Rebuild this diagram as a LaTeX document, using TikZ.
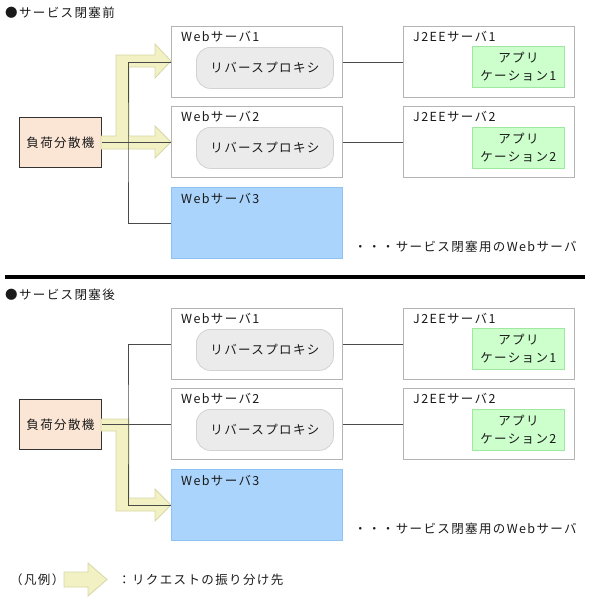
\documentclass[tikz,border=0pt]{standalone}
\usepackage{fontspec}
\setmainfont{Noto Sans CJK JP}[LetterSpace=11]
\definecolor{srvline}{HTML}{B4B4B4}
\definecolor{pillfill}{HTML}{EBEBEB}
\definecolor{pillline}{HTML}{D2D2D2}
\definecolor{wsblue}{HTML}{AAD4FC}
\definecolor{wsblueline}{HTML}{8EC2F2}
\definecolor{lbfill}{HTML}{FBE6D6}
\definecolor{lbline}{HTML}{333333}
\definecolor{appfill}{HTML}{CCFFCC}
\definecolor{appline}{HTML}{9FE89F}
\definecolor{arrfill}{HTML}{F1F1C3}
\definecolor{arrline}{HTML}{D6D6A6}
\definecolor{conncol}{HTML}{4A4A4A}
\definecolor{txt}{HTML}{1A1A1A}
\tikzset{
  box/.style 2 args={minimum width=#1pt, minimum height=#2pt, anchor=north west, inner sep=0pt},
  srv/.style={draw=srvline, fill=white, line width=1pt},
  ws3box/.style={draw=wsblueline, fill=wsblue, line width=1pt},
  pillbox/.style={draw=pillline, fill=pillfill, line width=0.8pt, rounded corners=14pt},
  lbbox/.style={draw=lbline, fill=lbfill, line width=1pt},
  appbox/.style={draw=appline, fill=appfill, line width=0.8pt},
  lbl/.style={anchor=west, inner sep=0pt, font=\fontsize{12.5}{14}\selectfont, text=txt},
  apptext/.style={anchor=center, inner sep=0pt, align=center, font=\fontsize{12.5}{18}\selectfont, text=txt},
  conn/.style={draw=conncol, line width=1pt},
  fatarrow/.style={fill=arrfill, draw=arrline, line width=0.8pt, line join=miter},
}
\newcommand\drawpart[3]{%
  \begin{scope}[yshift=-#2pt]
    \node[lbl] (#1title) at (5,13) {●サービス閉塞#3};
    \node[srv, box={171}{71}] (#1ws1) at (171,26) {};
    \node[srv, box={171}{71}] (#1ws2) at (171,106) {};
    \node[ws3box, box={171}{71}] (#1ws3) at (171,187) {};
    \node[srv, box={171}{71}] (#1j1) at (403,26) {};
    \node[srv, box={171}{71}] (#1j2) at (403,106) {};
    \node[lbbox, box={82}{50}] (#1lb) at (19,117) {};
    \node[lbl, anchor=center] (#1lbt) at (#1lb.center) {負荷分散機};
    \node[pillbox, box={137}{41}] (#1p1) at (196,47) {};
    \node[lbl, anchor=center] (#1p1t) at (#1p1.center) {リバースプロキシ};
    \node[pillbox, box={137}{41}] (#1p2) at (196,127) {};
    \node[lbl, anchor=center] (#1p2t) at (#1p2.center) {リバースプロキシ};
    \node[appbox, box={92}{41}] (#1a1) at (472,46) {};
    \node[apptext] (#1a1t) at (#1a1.center) {アプリ\\ケーション1};
    \node[appbox, box={92}{41}] (#1a2) at (472,127) {};
    \node[apptext] (#1a2t) at (#1a2.center) {アプリ\\ケーション2};
    \node[lbl] (#1ws1l) at (181,37) {Webサーバ1};
    \node[lbl] (#1ws2l) at (181,117) {Webサーバ2};
    \node[lbl] (#1ws3l) at (181,199) {Webサーバ3};
    \node[lbl] (#1j1l) at (413,37) {J2EEサーバ1};
    \node[lbl] (#1j2l) at (413,117) {J2EEサーバ2};
    \node[lbl] (#1note) at (354,247) {・・・サービス閉塞用のWebサーバ};
    \coordinate (#1bus) at (128,142);
  \end{scope}}
\begin{document}
\begin{tikzpicture}[x=1pt, y=-1pt]
  \useasboundingbox (0,0) rectangle (589,600);
  % ---- before
  \drawpart{a}{0}{前}
  \fill[fatarrow] (101,136) -- (116,136) -- (116,55) -- (155,55) -- (155,44) -- (171,61)
     -- (155,78) -- (155,67) -- (129,67) -- (129,136) -- (155,136) -- (155,126)
     -- (171,142) -- (155,158) -- (155,149) -- (101,149) -- cycle;
  \draw[conn] (alb.east) -- (alb.east -| aws2.west);
  \draw[conn] (aws1.west) -| (abus) |- (aws3.west);
  \draw[conn] (aws1.east) -- (aj1.west);
  \draw[conn] (aws2.east) -- (aj2.west);
  % ---- separator
  \draw[line width=4pt, black] (5,277) -- (585,277);
  % ---- after
  \drawpart{b}{282}{後}
  \fill[fatarrow] (101,419) -- (129,419) -- (129,498) -- (155,498) -- (155,489) -- (171,505)
     -- (155,521) -- (155,511) -- (116,511) -- (116,431) -- (101,431) -- cycle;
  \draw[conn] (blb.east) -- (blb.east -| bws2.west);
  \draw[conn] (bws1.west) -| (bbus) |- (bws3.west);
  \draw[conn] (bws1.east) -- (bj1.west);
  \draw[conn] (bws2.east) -- (bj2.west);
  % ---- legend
  \node[lbl] (legl) at (10,580) {（凡例）};
  \fill[fatarrow] (64,572) -- (88,572) -- (88,563) -- (107,579.5) -- (88,596) -- (88,587) -- (64,587) -- cycle;
  \node[lbl] (legt) at (118,580) {：リクエストの振り分け先};
\end{tikzpicture}
\end{document}
